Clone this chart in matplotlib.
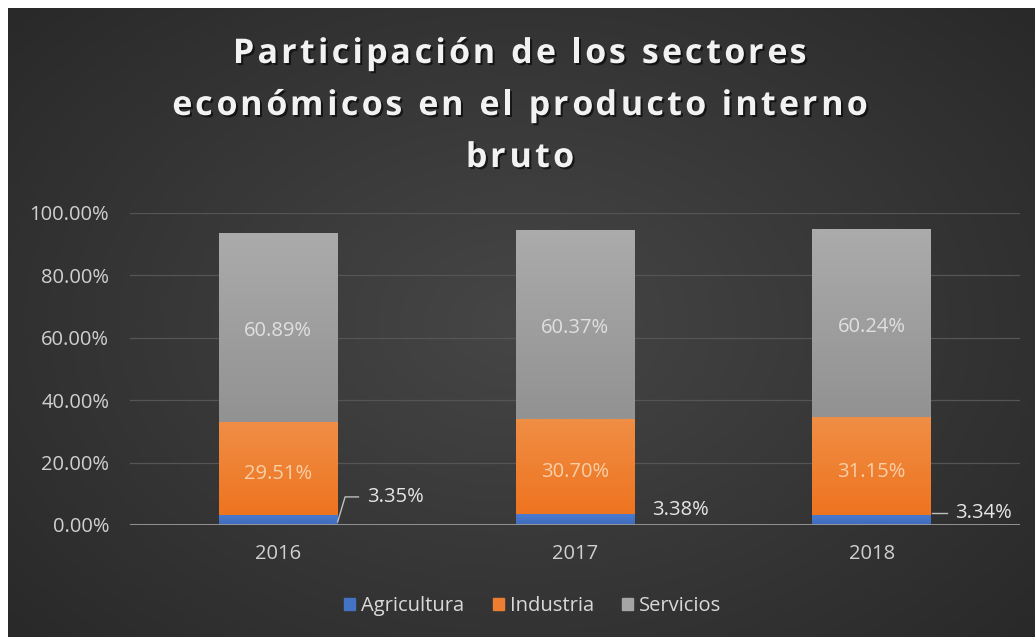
import numpy as np
import matplotlib
matplotlib.use("Agg")
import matplotlib.pyplot as plt
import matplotlib.patheffects as pe
from matplotlib.font_manager import FontProperties
from matplotlib.patches import Patch

years = ["2016", "2017", "2018"]
agricultura = [0.0335, 0.0338, 0.0334]
industria = [0.2951, 0.3070, 0.3115]
servicios = [0.6089, 0.6037, 0.6024]
yticks = [0.0, 0.2, 0.4, 0.6, 0.8, 1.0]
title_lines = ["Participación de los sectores",
               "económicos en el producto interno",
               "bruto"]
legend_labels = ["Agricultura", "Industria", "Servicios"]

W, H = 1035, 637
fig = plt.figure(figsize=(W / 100, H / 100), dpi=100)
fig.patch.set_facecolor("white")

# background gradient
bg = fig.add_axes([8 / W, 0, 1 - 8 / W, 1 - 8 / H], zorder=-10)
yy, xx = np.mgrid[-1:1:300j, -1:1:500j]
r = np.sqrt((xx * 0.9) ** 2 + (yy * 0.8) ** 2)
val = 0.275 - 0.095 * np.clip(r, 0, 1.3)
img = np.dstack([val, val, val])
bg.imshow(img, aspect="auto", extent=[0, 1, 0, 1], interpolation="bicubic")
bg.axis("off")

ax = fig.add_axes([130 / W, (H - 525) / H, 890 / W, 312 / H])
ax.set_facecolor("none")
x = np.arange(len(years))
bw = 0.4


def hex2rgb(h):
    return [int(h[i:i + 2], 16) / 255 for i in (1, 3, 5)]


def grad_bar(bars, top, bottom):
    for b in bars:
        b.set_facecolor("none")
        bx, by = b.get_x(), b.get_y()
        bwid, bh = b.get_width(), b.get_height()
        g = np.linspace(0, 1, 100)[:, None]
        c = np.array(top)[None, :] * (1 - g) + np.array(bottom)[None, :] * g
        c = np.repeat(c[:, None, :], 2, axis=1)
        im = ax.imshow(c, extent=[bx, bx + bwid, by, by + bh], aspect="auto",
                       zorder=2, interpolation="bilinear")
        im.set_clip_path(b)


b1 = ax.bar(x, agricultura, bw, color="#4472C4", zorder=2, linewidth=0)
b2 = ax.bar(x, industria, bw, bottom=agricultura, color="#ED7D31", zorder=2, linewidth=0)
bot3 = np.array(agricultura) + np.array(industria)
b3 = ax.bar(x, servicios, bw, bottom=bot3, color="#A5A5A5", zorder=2, linewidth=0)
grad_bar(b1, hex2rgb("#4A7BD0"), hex2rgb("#3F6BBB"))
grad_bar(b2, hex2rgb("#F08E45"), hex2rgb("#EE7420"))
grad_bar(b3, hex2rgb("#ABABAB"), hex2rgb("#929292"))

ax.set_xlim(-0.5, 2.5)
ax.set_ylim(0, 1.0)
ax.set_yticks(yticks)
ax.set_yticklabels([f"{v * 100:.2f}%" for v in yticks])
ax.set_xticks(x)
ax.set_xticklabels(years)
for s in ax.spines.values():
    s.set_visible(False)
ax.tick_params(length=0, colors="#d0d0d0", labelsize=14.5)
ax.tick_params(axis="y", pad=15)
ax.tick_params(axis="x", pad=14)
for lbl in ax.get_xticklabels() + ax.get_yticklabels():
    lbl.set_family("Open Sans")
ax.yaxis.grid(True, color="#555555", linewidth=0.9, zorder=0)
ax.set_axisbelow(True)
ax.axhline(0, color="#9a9a9a", linewidth=1.3, zorder=3)

# data labels
for i in range(3):
    ax.text(x[i], bot3[i] + servicios[i] / 2 - 0.01, f"{servicios[i] * 100:.2f}%",
            ha="center", va="center", color="#e0e0e0", fontsize=14.5,
            family="Open Sans", zorder=5)
    ax.text(x[i], agricultura[i] + industria[i] / 2 - 0.018, f"{industria[i] * 100:.2f}%",
            ha="center", va="center", color="#f8cfa8", fontsize=14.5,
            family="Open Sans", zorder=5)

agri_off = [(0.30, 0.090), (0.26, 0.048), (0.28, 0.038)]
for i in range(3):
    dx, ty = agri_off[i]
    ax.text(x[i] + dx, ty, f"{agricultura[i] * 100:.2f}%", ha="left", va="center",
            color="#e6e6e6", fontsize=14.5, family="Open Sans", zorder=5)
ax.plot([x[0] + 0.2, x[0] + 0.225, x[0] + 0.27], [agricultura[0] * 0.3, 0.090, 0.090],
        color="#bfbfbf", lw=1, zorder=5)
ax.plot([x[2] + 0.205, x[2] + 0.255], [0.038, 0.038], color="#bfbfbf", lw=1, zorder=5)

# title with letter spacing
renderer = fig.canvas.get_renderer()
tprop = FontProperties(family="Open Sans", weight="bold", size=24.5)
spacing_px = 3.3
baselines = [63, 115, 167]
cx = 520


def tw(s):
    w, h, d = renderer.get_text_width_height_descent(s, tprop, ismath=False)
    return w


ref_w = tw("x")
shadow = [pe.SimplePatchShadow(offset=(1.5, -1.5), shadow_rgbFace="black", alpha=0.6), pe.Normal()]
for line, base in zip(title_lines, baselines):
    n = len(line)
    total = tw(line) + spacing_px * (n - 1)
    x0 = cx - total / 2
    for i, ch in enumerate(line):
        if ch == " ":
            continue
        xpos = x0 + (tw(line[:i] + "x") - ref_w if i > 0 else 0) + spacing_px * i
        fig.text(xpos / W, 1 - base / H, ch, ha="left", va="baseline",
                 fontproperties=tprop, color="#f2f2f2", path_effects=shadow)

# legend
handles = [Patch(color="#4472C4"), Patch(color="#ED7D31"), Patch(color="#A5A5A5")]
leg = fig.legend(handles, legend_labels, loc="center",
                 bbox_to_anchor=(533 / W, 1 - 606 / H), ncol=3, frameon=False,
                 handlelength=0.55, handleheight=0.55, handletextpad=0.3, columnspacing=1.4,
                 prop={"family": "Open Sans", "size": 14.5})
for t in leg.get_texts():
    t.set_color("#d9d9d9")

fig.savefig("out.png", dpi=100, facecolor="white")
